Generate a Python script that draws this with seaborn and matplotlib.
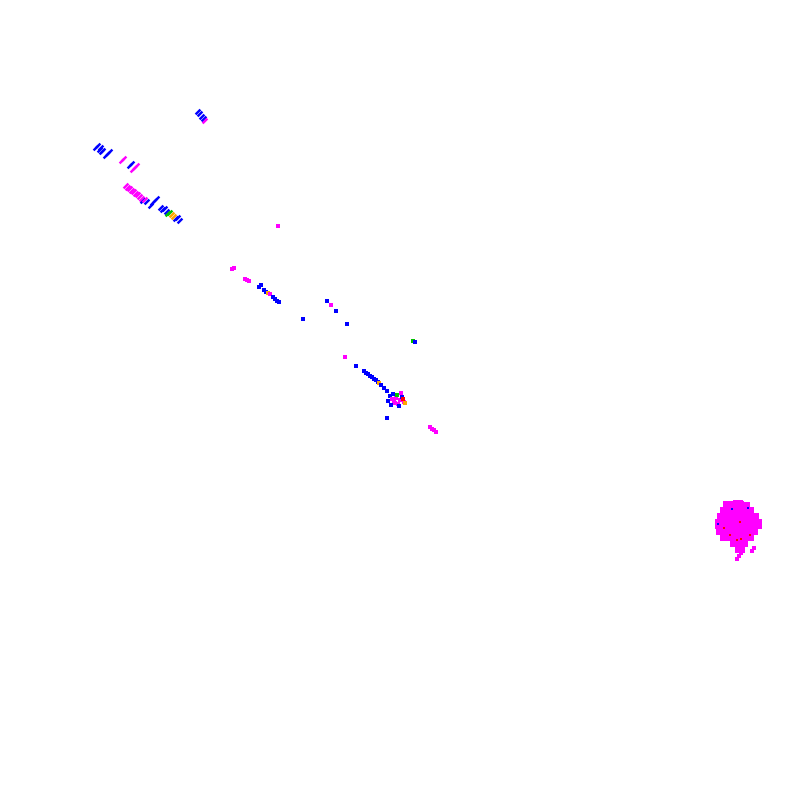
import matplotlib
matplotlib.use("Agg")
import matplotlib.pyplot as plt
import seaborn as sns
import pandas as pd

# scattered embedding points (x, y, cluster)
pt_x = [198, 200, 202, 204, 205,
        96, 98, 100, 101, 102, 103, 106, 108, 110,
        122, 124, 130, 132, 133, 135, 137,
        126, 128, 130, 132, 134, 136, 138, 140, 142, 143, 145, 147,
        151, 153, 155, 157, 161, 163, 165, 167, 168, 170, 172, 174, 176, 178, 180,
        278, 232, 234, 245, 247, 249,
        259, 261, 264, 266, 268, 270, 273, 275, 277, 279,
        327, 331, 336, 303, 347,
        345, 356, 364, 366, 368, 370, 372, 374, 376, 378, 379,
        381, 384, 387,
        413, 415,
        390, 392, 394, 396, 398, 400, 402, 404, 391, 395, 399, 403, 393, 397, 401, 388, 405, 387,
        430, 432, 434, 436]
pt_y = [112, 114, 117, 119, 121,
        148, 146, 150, 148, 152, 151, 156, 154, 152,
        161, 159, 166, 164, 170, 168, 166,
        186, 188, 189, 191, 192, 194, 195, 197, 199, 201, 200, 202,
        206, 203, 201, 199, 208, 210, 209, 212, 214, 213, 215, 217, 219, 218, 221,
        226, 269, 268, 279, 280, 281,
        287, 285, 290, 292, 293, 294, 297, 299, 301, 302,
        301, 305, 311, 319, 324,
        357, 366, 371, 373, 374, 376, 377, 379, 380, 382, 383,
        385, 388, 391,
        341, 342,
        396, 399, 401, 398, 404, 400, 397, 402, 405, 403, 406, 399, 394, 395, 393, 401, 403, 418,
        427, 429, 430, 432]
pt_group = ["b", "b", "b", "b", "m",
            "b", "b", "b", "b", "b", "b", "b", "b", "b",
            "m", "m", "b", "b", "m", "m", "m",
            "m", "m", "m", "m", "m", "m", "m", "m", "m", "b", "m", "b",
            "b", "b", "b", "b", "b", "b", "b", "b", "g", "g", "o", "o", "b", "b", "b",
            "m", "m", "m", "m", "m", "m",
            "b", "b", "b", "b", "o", "m", "b", "b", "b", "b",
            "b", "m", "b", "b", "b",
            "m", "b", "b", "b", "b", "b", "b", "b", "b", "b", "o",
            "b", "b", "b",
            "g", "b",
            "b", "m", "m", "m", "m", "m", "b", "m", "b", "m", "b", "r", "b", "g", "m", "b", "o", "b",
            "m", "m", "m", "m"]

# dense cluster on the right
blob_x = [728, 738, 745,
          725, 733, 741, 749,
          722, 730, 738, 746, 754,
          720, 728, 736, 744, 752, 757,
          721, 729, 737, 745, 753,
          725, 733, 741, 749,
          735, 743,
          740]
blob_y = [506, 505, 507,
          512, 512, 512, 512,
          518, 518, 518, 518, 518,
          524, 524, 524, 524, 524, 524,
          530, 530, 530, 530, 530,
          536, 536, 536, 536,
          542, 542,
          548]
blob_dots_x = [724, 730, 737, 741, 750, 740, 732, 748, 718]
blob_dots_y = [528, 535, 540, 539, 535, 522, 509, 508, 524]
blob_dots_group = ["r", "r", "r", "r", "r", "r", "b", "b", "b"]
tail_x = [754, 752, 741, 739, 737, 742]
tail_y = [548, 551, 553, 556, 559, 503]

palette = {"b": "#0000ff", "m": "#ff00ff", "g": "#00c000", "o": "#ffa500", "r": "#ff0000"}

df = pd.DataFrame({"x": pt_x, "y": pt_y, "group": pt_group})
blob = pd.DataFrame({"x": blob_x, "y": blob_y})
dots = pd.DataFrame({"x": blob_dots_x, "y": blob_dots_y, "group": blob_dots_group})
tail = pd.DataFrame({"x": tail_x, "y": tail_y})

# short "/" dash used for the points in the upper left arm
dash = [(0.457, 0.957), (0.957, 0.457), (-0.457, -0.957), (-0.957, -0.457)]

sns.set_style("white")
fig = plt.figure(figsize=(8, 8), dpi=100)
ax = fig.add_axes([0, 0, 1, 1])

sns.scatterplot(data=blob, x="x", y="y", color="#ff00ff", marker="s", s=55,
                linewidth=0, ax=ax, legend=False)
sns.scatterplot(data=tail, x="x", y="y", color="#ff00ff", marker="s", s=12,
                linewidth=0, ax=ax, legend=False)
arm = df[df["x"] < 210]
rest = df[df["x"] >= 210]
sns.scatterplot(data=arm, x="x", y="y", hue="group", palette=palette, marker=dash, s=22,
                linewidth=0, ax=ax, legend=False)
sns.scatterplot(data=rest, x="x", y="y", hue="group", palette=palette, marker="s", s=6,
                linewidth=0, ax=ax, legend=False)
sns.scatterplot(data=dots, x="x", y="y", hue="group", palette=palette, marker="s", s=4,
                linewidth=0, ax=ax, legend=False)

ax.set_xlim(0, 800)
ax.set_ylim(800, 0)
ax.axis("off")

plt.savefig("out.png", dpi=100, facecolor="white")
